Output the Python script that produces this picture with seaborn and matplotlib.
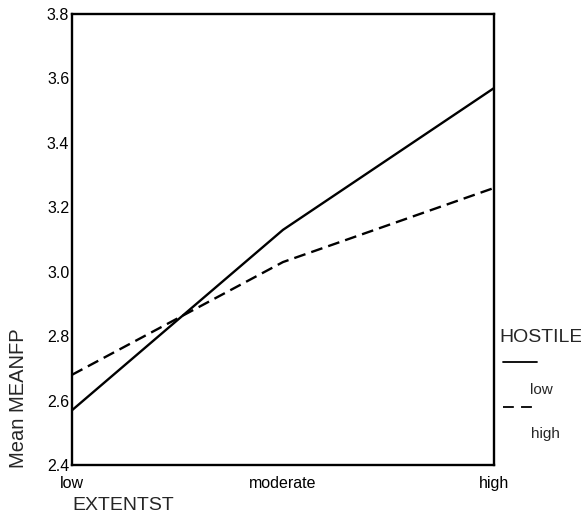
import numpy as np
import pandas as pd
import matplotlib
matplotlib.use("Agg")
import matplotlib.pyplot as plt
from matplotlib.lines import Line2D
import seaborn as sns

# Data
extent_levels = ["low", "moderate", "high"]
hostile_levels = ["low", "high"]
meanfp_hostile_low = [2.57, 3.13, 3.57]
meanfp_hostile_high = [2.68, 3.03, 3.26]
y_ticks = [2.4, 2.6, 2.8, 3.0, 3.2, 3.4, 3.6, 3.8]

df = pd.DataFrame({
    "EXTENTST": extent_levels * 2,
    "HOSTILE": ["low"] * 3 + ["high"] * 3,
    "MEANFP": meanfp_hostile_low + meanfp_hostile_high,
})
df["x"] = df["EXTENTST"].map({k: i for i, k in enumerate(extent_levels)})

sns.set_style("white")
plt.rcParams["font.family"] = ["Liberation Sans", "DejaVu Sans"]

W, H = 581, 515
fig = plt.figure(figsize=(W / 100, H / 100), dpi=100)
ax = fig.add_axes([72 / W, 1 - 465 / H, (494 - 72) / W, (465 - 14) / H])

dash_styles = {"low": "", "high": (5, 2.6)}
sns.lineplot(
    data=df, x="x", y="MEANFP", hue="HOSTILE", style="HOSTILE",
    hue_order=hostile_levels, style_order=hostile_levels,
    palette={"low": "black", "high": "black"}, dashes=dash_styles,
    lw=1.7, legend=False, ax=ax,
)

ax.set_xlim(0, len(extent_levels) - 1)
ax.set_ylim(y_ticks[0], y_ticks[-1])
ax.set_xticks(range(len(extent_levels)))
ax.set_xticklabels(extent_levels, fontsize=11.5)
ax.set_yticks(y_ticks)
ax.set_yticklabels([f"{v:.1f}" for v in y_ticks], fontsize=11.5)
ax.tick_params(axis="both", direction="in", length=3, width=2, colors="black")
ax.tick_params(axis="y", pad=2)
ax.tick_params(axis="x", pad=8)
ax.set_xlabel("")
ax.set_ylabel("")
for s in ax.spines.values():
    s.set_color("black")
    s.set_linewidth(1.7)
    s.set_visible(True)

# axis titles (SPSS-style placement)
fig.text(72 / W, 1 - 505 / H, "EXTENTST", fontsize=14, ha="left", va="center")
fig.text(19 / W, 1 - 468 / H, "Mean MEANFP", fontsize=14.5, rotation=90,
         ha="center", va="bottom")

# legend
fig.text(499 / W, 1 - 338 / H, "HOSTILE", fontsize=14, ha="left", va="center")
fig.add_artist(Line2D([503 / W, 537 / W], [1 - 362 / H] * 2, color="black", lw=1.3))
fig.text(530 / W, 1 - 390 / H, "low", fontsize=11, ha="left", va="center")
fig.add_artist(Line2D([503 / W, 537 / W], [1 - 407 / H] * 2, color="black",
                      lw=1.3, dashes=(6, 4)))
fig.text(531 / W, 1 - 434 / H, "high", fontsize=11, ha="left", va="center")

fig.savefig("out.png", dpi=100)
plt.close(fig)
